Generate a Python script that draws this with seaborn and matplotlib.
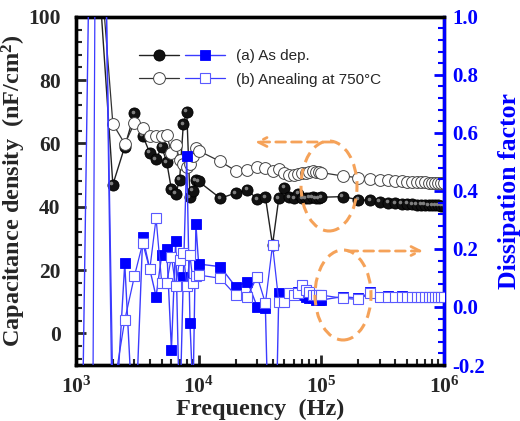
import matplotlib
matplotlib.use("Agg")
import matplotlib.pyplot as plt
import matplotlib.transforms as mtransforms
import seaborn as sns
from matplotlib.patches import Ellipse
from matplotlib.legend_handler import HandlerTuple
from matplotlib.ticker import LogLocator, AutoMinorLocator, FixedLocator, FixedFormatter, NullFormatter

# Sweep frequencies (Hz)
freq = [1000, 1500, 2000, 2500, 3000, 3500, 4000, 4500, 5000, 5500,
        6000, 6500, 7000, 7500, 8000, 8500, 9000, 9500, 10000,
        15000, 20000, 25000, 30000, 35000, 40000, 45000, 50000, 55000,
        60000, 65000, 70000, 75000, 80000, 85000, 90000, 95000, 100000,
        150000, 200000, 250000, 300000, 350000, 400000, 450000, 500000,
        550000, 600000, 650000, 700000, 750000, 800000, 850000, 900000,
        950000, 1000000]

# Capacitance density (nF/cm^2)
cap_asdep = [150, 119, 47, 59, 69.5, 62.5, 57, 55, 59, 54,
             45.5, 44, 48.5, 66, 70, 43, 45, 48.3, 48,
             42.7, 44.3, 45.3, 42.4, 43.0, 28, 42.7, 45.9, 43.0,
             42.7, 44.0, 42.7, 42.7, 42.8, 43.0, 42.7, 42.7, 43.0,
             43.2, 42.2, 42.0, 41.6, 41.3, 41.1, 41.0, 40.9,
             40.8, 40.7, 40.6, 40.6, 40.5, 40.5, 40.4, 40.4,
             40.3, 40.3]
cap_anneal = [160, 128, 66.2, 59.9, 66.4, 65.0, 62.2, 62.2, 62.2, 62.7,
              57, 59.5, 54.8, 53.5, 52.5, 53.5, 56, 58.5, 57.7,
              54.3, 51.4, 51.6, 52.5, 52.1, 51.4, 51.9, 50.6, 50.1,
              50.1, 50.4, 50.6, 50.8, 51.1, 51.2, 51.0, 51.0, 50.8,
              49.7, 49.2, 48.8, 48.5, 48.3, 48.1, 48.0, 47.9,
              47.8, 47.8, 47.7, 47.7, 47.6, 47.6, 47.6, 47.5,
              47.5, 47.5]

# Dissipation factor
df_asdep = [-1.95, 3.2, -0.55, 0.15, -0.5, 0.242, 0.13, 0.036, 0.179, 0.199,
            -0.148, 0.228, -0.4, 0.102, 0.52, -0.056, -0.3, 0.285, 0.148,
            0.139, 0.07, 0.087, 0.001, -0.005, -1.0, 0.047, 0.035, 0.04,
            0.045, 0.05, 0.04, 0.035, 0.03, 0.03, 0.025, 0.025, 0.024,
            0.036, 0.03, 0.05, 0.036, 0.038, 0.036, 0.037, 0.036,
            0.036, 0.036, 0.036, 0.036, 0.036, 0.036, 0.036, 0.036,
            0.036, 0.036]
df_anneal = [-12.0, 2.85, -0.3, -0.045, 0.107, 0.22, 0.13, 0.306, 0.084, 0.084,
             0.173, 0.072, 0.162, 0.187, 0.072, 0.179, 0.084, 0.107, 0.11,
             0.099, 0.041, 0.036, 0.105, 0.013, 0.214, 0.018, 0.018, 0.047,
             0.041, 0.047, 0.076, 0.059, 0.05, 0.041, 0.041, 0.041, 0.041,
             0.03, 0.026, 0.047, 0.036, 0.036, 0.036, 0.036, 0.036,
             0.036, 0.036, 0.036, 0.036, 0.036, 0.036, 0.036, 0.036,
             0.036, 0.036]

labels = ["(a) As dep.", "(b) Anealing at 750°C"]
xticks = [1e3, 1e4, 1e5, 1e6]
xticklabels = [r"$\mathbf{10^{3}}$", r"$\mathbf{10^{4}}$", r"$\mathbf{10^{5}}$", r"$\mathbf{10^{6}}$"]

sns.set_style("ticks")
plt.rcParams["font.family"] = ["Liberation Serif", "DejaVu Serif"]
plt.rcParams["mathtext.fontset"] = "custom"
plt.rcParams["mathtext.rm"] = "Liberation Serif"
plt.rcParams["mathtext.bf"] = "Liberation Serif:bold"
plt.rcParams["mathtext.default"] = "bf"

BLUE = "#0000FF"
LBLUE = "#3B3BFF"
ORANGE = "#F5A259"

fig = plt.figure(figsize=(5.2, 4.21), dpi=100)
ax = fig.add_axes([0.146, 0.133, 0.708, 0.827])
ax2 = ax.twinx()

# Capacitance curves (left axis)
sns.lineplot(x=freq, y=cap_asdep, ax=ax, color="#222222", lw=1.0, marker="o",
             markersize=8, markerfacecolor="#111111", markeredgecolor="#000000",
             markeredgewidth=0.6, zorder=3)
# small glossy spot on the solid spheres
shine = mtransforms.offset_copy(ax.transData, fig=fig, x=-1.6, y=1.6, units="dots")
ax.plot(freq, cap_asdep, ls="none", marker="o", markersize=2.6,
        markerfacecolor="#8c8c8c", markeredgewidth=0, alpha=0.9,
        transform=shine, zorder=3.5)
sns.lineplot(x=freq, y=cap_anneal, ax=ax, color="#333333", lw=0.9, marker="o",
             markersize=8.5, markerfacecolor="white", markeredgecolor="#444444",
             markeredgewidth=0.7, zorder=4)

# Dissipation factor curves (right axis)
sns.lineplot(x=freq, y=df_asdep, ax=ax2, color=LBLUE, lw=1.0, marker="s",
             markersize=6.5, markerfacecolor=BLUE, markeredgecolor=BLUE,
             markeredgewidth=0.6, zorder=3)
sns.lineplot(x=freq, y=df_anneal, ax=ax2, color=LBLUE, lw=0.9, marker="s",
             markersize=6.8, markerfacecolor="white", markeredgecolor="#5A5AFF",
             markeredgewidth=0.8, zorder=4)

ax.set_xscale("log")
ax.set_xlim(1e3, 1e6)
ax.set_ylim(-10, 100)
ax2.set_ylim(-0.2, 1.0)

ax.xaxis.set_major_locator(FixedLocator(xticks))
ax.xaxis.set_major_formatter(FixedFormatter(xticklabels))
ax.xaxis.set_minor_locator(LogLocator(base=10, subs=range(2, 10)))
ax.xaxis.set_minor_formatter(NullFormatter())
ax.set_yticks([0, 20, 40, 60, 80, 100])
ax.yaxis.set_minor_locator(AutoMinorLocator(5))
ax2.set_yticks([-0.2, 0.0, 0.2, 0.4, 0.6, 0.8, 1.0])
ax2.set_yticklabels(["-0.2", "0.0", "0.2", "0.4", "0.6", "0.8", "1.0"])
ax2.yaxis.set_minor_locator(AutoMinorLocator(5))

for a in (ax, ax2):
    for s in a.spines.values():
        s.set_linewidth(2.4)
        s.set_color("black")
ax2.spines["right"].set_color(BLUE)

ax.tick_params(axis="both", which="major", direction="in", length=7, width=2,
               labelsize=15.5, top=False, right=False)
ax.tick_params(axis="both", which="minor", direction="in", length=4, width=1.5,
               top=False, right=False)
ax.tick_params(axis="x", which="major", pad=8)
ax.tick_params(axis="y", which="major", pad=11)
ax2.tick_params(axis="y", which="major", direction="in", length=7, width=2,
                labelsize=15, colors=BLUE, pad=6)
ax2.tick_params(axis="y", which="minor", direction="in", length=4, width=1.5,
                colors=BLUE)
for t in ax.get_yticklabels() + ax2.get_yticklabels():
    t.set_fontweight("bold")

ax.set_xlabel("Frequency  (Hz)", fontsize=17.5, fontweight="bold", labelpad=1)
ax.set_ylabel("Capacitance density  (nF/cm$^{2}$)", fontsize=17.5,
              fontweight="bold", labelpad=0)
ax2.set_ylabel("Dissipation factor", fontsize=18.5, fontweight="bold",
               color=BLUE, labelpad=9)

# Legend: two handles per row
hl = ax.get_lines()
hr = ax2.get_lines()
leg = ax2.legend(handles=[(hl[0], hr[0]), (hl[2], hr[1])], labels=labels,
                 handler_map={tuple: HandlerTuple(ndivide=None, pad=0.35)},
                 loc="upper left", bbox_to_anchor=(0.268, 0.883),
                 bbox_transform=fig.transFigure, frameon=False,
                 handlelength=5.6, handletextpad=0.7, labelspacing=0.62,
                 borderpad=0, borderaxespad=0,
                 prop={"family": "Liberation Sans", "size": 11})

# Guide marks: dashed ellipses with arrows towards the relevant axis
def fx(px):
    return px / 520.0

def fy(py):
    return 1.0 - py / 421.0

for cx, cy in [(329, 186), (343, 295)]:
    e = Ellipse((fx(cx), fy(cy)), width=56 / 520.0, height=90 / 421.0,
                transform=fig.transFigure, fill=False, edgecolor=ORANGE,
                lw=2.2, ls=(0, (3.5, 2.2)), zorder=10)
    fig.add_artist(e)

arrow_kw = dict(arrowstyle="->", color=ORANGE, lw=2.0, ls=(0, (3.5, 2.2)),
                mutation_scale=16, shrinkA=0, shrinkB=0)
ax2.annotate("", xy=(fx(255), fy(142)), xytext=(fx(333), fy(142)),
             xycoords="figure fraction", textcoords="figure fraction",
             arrowprops=arrow_kw, zorder=10)
ax2.annotate("", xy=(fx(423), fy(251)), xytext=(fx(348), fy(251)),
             xycoords="figure fraction", textcoords="figure fraction",
             arrowprops=arrow_kw, zorder=10)

fig.savefig("out.png", dpi=100)
